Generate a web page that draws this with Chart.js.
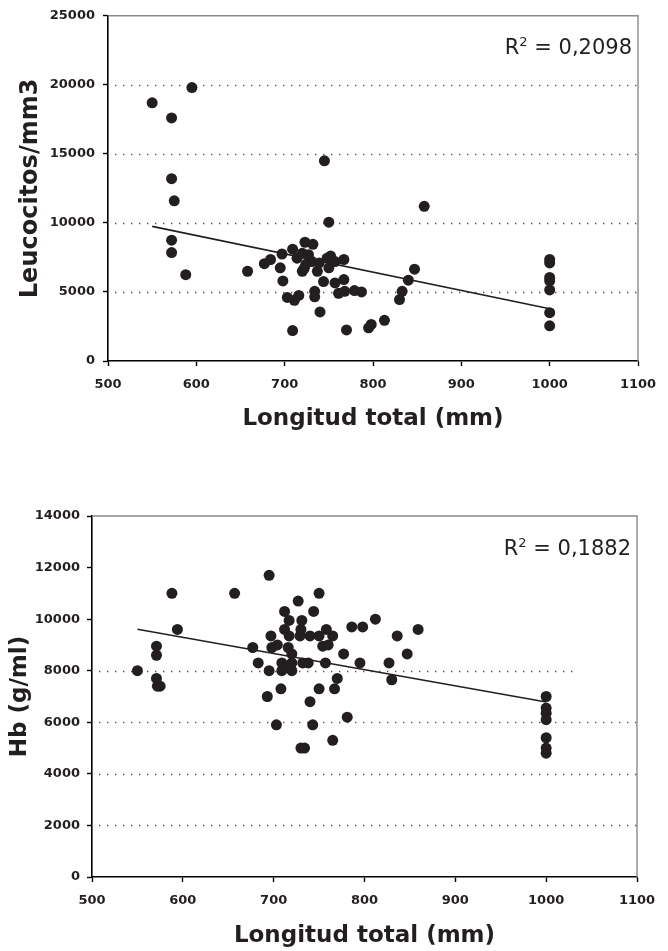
<!DOCTYPE html>
<html>
<head>
<meta charset="utf-8">
<script src="https://cdn.jsdelivr.net/npm/chart.js@4.4.0/dist/chart.umd.min.js"></script>
<style>
  html, body { margin: 0; padding: 0; background: #fff; }
  #wrap { position: relative; width: 668px; height: 951px; }
  canvas { position: absolute; left: 0; }
</style>
</head>
<body>
<div id="wrap">
  <canvas id="leucoChart" width="668" height="440" style="top:0"></canvas>
  <canvas id="hbChart" width="668" height="511" style="top:440px"></canvas>
</div>
<script>
// Longitud total (mm) axis
const longitudTicks = [500, 600, 700, 800, 900, 1000, 1100];

// Leucocitos/mm3 vs longitud
const leucoLongitud = [550, 595, 572, 572, 575, 572, 572, 588, 658, 745, 750, 858,
  677, 684, 697, 695, 698, 703, 709, 709, 711, 716, 723, 732, 714, 720, 727, 731,
  724, 720, 737, 739, 744, 748, 750, 757, 767, 767, 757, 761, 768, 734, 734, 740,
  770, 779, 787, 795, 798, 813, 830, 833, 840, 847, 752, 722,
  1000, 1000, 1000, 1000, 1000, 1000, 1000];
const leucoValues = [18700, 19800, 17600, 13200, 11600, 8750, 7850, 6250, 6500, 14500, 10050, 11200,
  7050, 7350, 7750, 6750, 5800, 4600, 2200, 8100, 4400, 4750, 8600, 8450, 7450, 7800, 7700, 7200,
  7000, 6500, 6500, 7100, 5750, 7450, 6750, 7200, 7350, 5900, 5650, 4900, 5050, 5050, 4650, 3550,
  2250, 5100, 5000, 2400, 2650, 2950, 4450, 5050, 5850, 6650, 7600, 6700,
  7350, 7100, 6050, 5800, 5150, 3500, 2550];
const leucoTrendX = [550, 1000];
const leucoTrendY = [9750, 3790];
const leucoTicks = [0, 5000, 10000, 15000, 20000, 25000];
const leucoGrid = [5000, 10000, 15000, 20000];
const leucoR2 = '0,2098';

// Hb (g/ml) vs longitud
const hbLongitud = [550, 571, 571, 571, 572, 575, 588, 594, 657, 695, 677, 683,
  695, 693, 697, 698, 704, 703, 708, 712, 712, 709, 709, 720, 720, 715, 717, 717,
  716, 720, 727, 731, 730, 729, 740, 732, 738, 740, 743, 730, 734, 750, 744, 750,
  758, 765, 754, 760, 757, 750, 765, 770, 767, 777, 781, 786, 798, 795, 812, 827,
  830, 836, 847, 859,
  1000, 1000, 1000, 1000, 1000, 1000, 1000];
const hbValues = [8000, 8950, 8600, 7700, 7400, 7400, 11000, 9600, 11000, 11700, 8900, 8300,
  8000, 7000, 9350, 8900, 9000, 5900, 7300, 10300, 9600, 8300, 8000, 8300, 8000, 8150, 9950, 9350,
  8900, 8650, 10700, 9950, 9600, 9350, 9350, 8300, 8300, 6800, 5900, 5000, 5000, 11000, 10300, 9350,
  9600, 9350, 8950, 9000, 8300, 7300, 5300, 7700, 7300, 8650, 6200, 9700, 9700, 8300, 10000, 8300,
  7650, 9350, 8650, 9600,
  7000, 6550, 6350, 6100, 5400, 5000, 4800];
const hbTrendX = [550, 1000];
const hbTrendY = [9610, 6790];
const hbTicks = [0, 2000, 4000, 6000, 8000, 10000, 12000, 14000];
const hbGrid = [2000, 4000, 6000, 8000];
const hbGridEnd = [1100, 1100, 1100, 1030];
const hbR2 = '0,1882';

const ink = '#231f20';
const tickFont = { family: 'DejaVu Sans', weight: 'bold', size: 13 };

// dotted grid, grey frame and R2 label
function framePlugin(gridValues, gridEnds, r2) {
  return {
    id: 'frame',
    beforeDatasetsDraw(chart) {
      const { ctx, chartArea: a, scales: { x, y } } = chart;
      ctx.save();
      ctx.strokeStyle = '#555';
      ctx.lineWidth = 1.4;
      ctx.setLineDash([1.4, 6.6]);
      gridValues.forEach((v, i) => {
        const py = Math.round(y.getPixelForValue(v)) + 0.5;
        const endX = gridEnds ? x.getPixelForValue(gridEnds[i]) : a.right;
        ctx.beginPath();
        ctx.moveTo(a.left + 7, py);
        ctx.lineTo(endX, py);
        ctx.stroke();
      });
      ctx.setLineDash([]);
      ctx.strokeStyle = '#8a8a8a';
      ctx.lineWidth = 1.4;
      ctx.beginPath();
      ctx.moveTo(a.left, a.top);
      ctx.lineTo(a.right, a.top);
      ctx.lineTo(a.right, a.bottom);
      ctx.stroke();
      ctx.restore();
    },
    afterDraw(chart) {
      const { ctx, chartArea: a } = chart;
      const rest = ' = ' + r2;
      const big = '21px "DejaVu Sans"';
      const small = '13px "DejaVu Sans"';
      ctx.save();
      ctx.fillStyle = ink;
      ctx.textBaseline = 'alphabetic';
      ctx.font = big;
      const wR = ctx.measureText('R').width;
      const wRest = ctx.measureText(rest).width;
      ctx.font = small;
      const wSup = ctx.measureText('2').width;
      const base = a.top + 38.5;
      let px = a.right - 6 - wRest - wSup - wR;
      ctx.font = big;
      ctx.fillText('R', px, base);
      ctx.font = small;
      ctx.fillText('2', px + wR, base - 8);
      ctx.font = big;
      ctx.fillText(rest, px + wR + wSup, base);
      ctx.restore();
    }
  };
}

function makeChart(id, xs, ys, trendX, trendY, yTicks, yTitle, yTitleSize, grid, gridEnds, r2, box) {
  const points = xs.map((x, i) => ({ x: x, y: ys[i] }));
  const trend = trendX.map((x, i) => ({ x: x, y: trendY[i] }));
  return new Chart(document.getElementById(id), {
    type: 'scatter',
    data: {
      datasets: [{
        data: points,
        pointRadius: 5.5,
        pointHoverRadius: 5.5,
        pointBackgroundColor: ink,
        pointBorderWidth: 0
      }, {
        type: 'line',
        data: trend,
        borderColor: ink,
        borderWidth: 1.6,
        pointRadius: 0,
        fill: false
      }]
    },
    options: {
      responsive: false,
      animation: false,
      events: [],
      layout: { padding: { top: box.top, right: box.right, bottom: 0, left: 0 } },
      plugins: { legend: { display: false }, tooltip: { enabled: false } },
      scales: {
        x: {
          type: 'linear',
          min: longitudTicks[0],
          max: longitudTicks[longitudTicks.length - 1],
          afterBuildTicks: s => { s.ticks = longitudTicks.map(v => ({ value: v })); },
          afterFit: s => { s.height = box.xHeight; },
          ticks: { font: tickFont, color: ink, padding: 11, maxRotation: 0, autoSkip: false,
            callback: v => String(v) },
          grid: { drawOnChartArea: false, drawTicks: true, tickLength: 5, tickWidth: 1.4, color: '#000' },
          border: { color: '#000', width: 1.6 },
          title: {
            display: true,
            text: 'Longitud total (mm)',
            color: ink,
            font: { family: 'DejaVu Sans', weight: 'bold', size: 23, lineHeight: 1.2 },
            padding: { top: 0, bottom: box.xTitlePad }
          }
        },
        y: {
          min: yTicks[0],
          max: yTicks[yTicks.length - 1],
          afterBuildTicks: s => { s.ticks = yTicks.map(v => ({ value: v })); },
          afterFit: s => { s.width = box.yWidth; },
          ticks: { font: tickFont, color: ink, padding: box.yTickPad, autoSkip: false,
            callback: v => String(v) },
          grid: { drawOnChartArea: false, drawTicks: true, tickLength: 5, tickWidth: 1.4, color: '#000' },
          border: { color: '#000', width: 1.6 },
          title: {
            display: true,
            text: yTitle,
            color: ink,
            font: { family: 'DejaVu Sans', weight: 'bold', size: yTitleSize, lineHeight: 1.2 },
            padding: { top: box.yTitlePad, bottom: 0 }
          }
        }
      }
    },
    plugins: [framePlugin(grid, gridEnds, r2)]
  });
}

makeChart('leucoChart', leucoLongitud, leucoValues, leucoTrendX, leucoTrendY, leucoTicks,
  'Leucocitos/mm3', 24, leucoGrid, null, leucoR2,
  { top: 13, right: 30, xHeight: 79, yWidth: 108, xTitlePad: 7, yTitlePad: 16, yTickPad: 8 });

makeChart('hbChart', hbLongitud, hbValues, hbTrendX, hbTrendY, hbTicks,
  'Hb (g/ml)', 23, hbGrid, hbGridEnd, hbR2,
  { top: 76, right: 31, xHeight: 74, yWidth: 92, xTitlePad: 1, yTitlePad: 6, yTickPad: 7 });
</script>
</body>
</html>
